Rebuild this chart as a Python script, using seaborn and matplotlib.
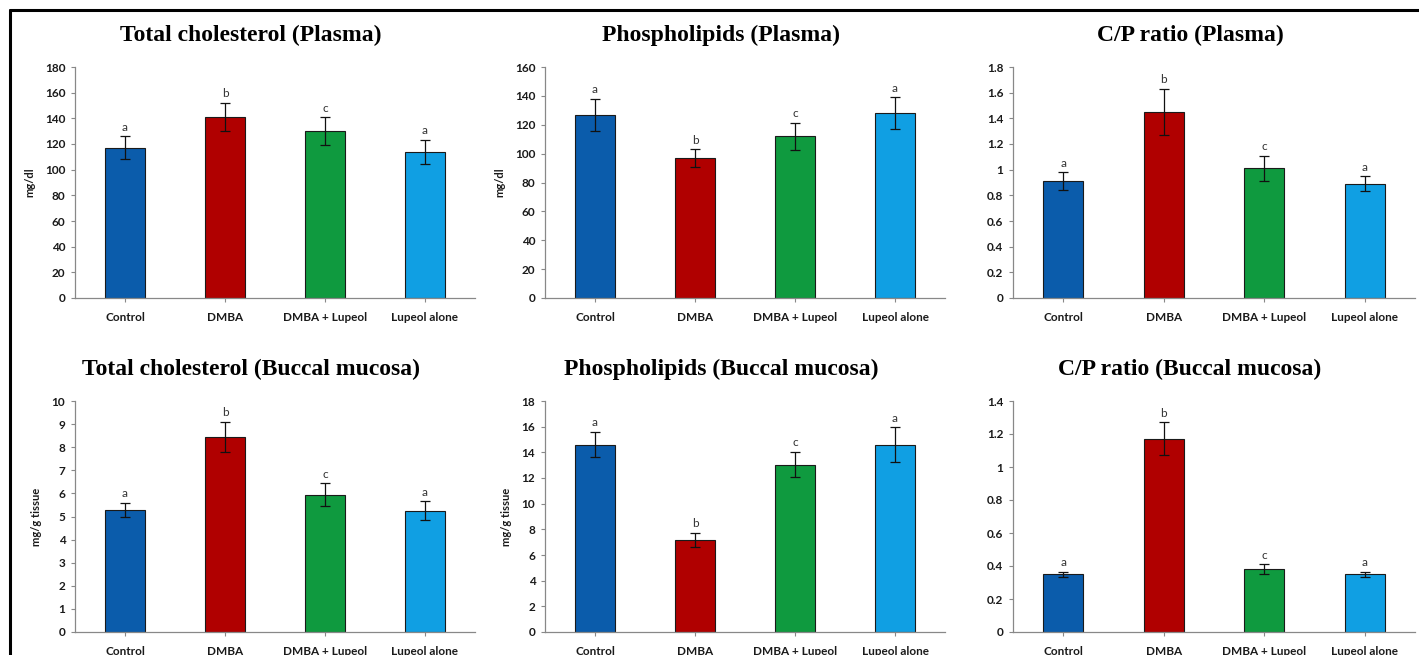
import matplotlib
matplotlib.use("Agg")
import matplotlib.pyplot as plt
import seaborn as sns
import pandas as pd
from matplotlib.lines import Line2D

# ── Data ──────────────────────────────────────────────────────────────────── #
groups = ["Control", "DMBA", "DMBA + Lupeol", "Lupeol alone"]
letters = ["a", "b", "c", "a"]
palette = ["#0b5cab", "#b00000", "#0f9a3f", "#109fe3"]

tc_plasma = [117, 141, 130, 114]
tc_plasma_sd = [9, 11, 11, 9.5]
pl_plasma = [127, 97, 112, 128]
pl_plasma_sd = [11, 6, 9.5, 11]
cp_plasma = [0.91, 1.45, 1.01, 0.89]
cp_plasma_sd = [0.07, 0.18, 0.10, 0.06]

tc_buccal = [5.3, 8.45, 5.95, 5.25]
tc_buccal_sd = [0.3, 0.65, 0.5, 0.42]
pl_buccal = [14.6, 7.2, 13.05, 14.6]
pl_buccal_sd = [1.0, 0.55, 1.0, 1.35]
cp_buccal = [0.35, 1.17, 0.38, 0.35]
cp_buccal_sd = [0.015, 0.10, 0.03, 0.015]

panels = [
    ("Total cholesterol (Plasma)", tc_plasma, tc_plasma_sd, "mg/dl", 180, 20, "{:.0f}"),
    ("Phospholipids (Plasma)", pl_plasma, pl_plasma_sd, "mg/dl", 160, 20, "{:.0f}"),
    ("C/P ratio (Plasma)", cp_plasma, cp_plasma_sd, "", 1.8, 0.2, "{:g}"),
    ("Total cholesterol (Buccal mucosa)", tc_buccal, tc_buccal_sd, "mg/g tissue", 10, 1, "{:.0f}"),
    ("Phospholipids (Buccal mucosa)", pl_buccal, pl_buccal_sd, "mg/g tissue", 18, 2, "{:.0f}"),
    ("C/P ratio (Buccal mucosa)", cp_buccal, cp_buccal_sd, "", 1.4, 0.2, "{:g}"),
]

# ── Layout ────────────────────────────────────────────────────────────────── #
W, H = 1419, 655
lefts = [75, 545, 1013]
widths = [400, 400, 402]
rows = [(67, 298), (401, 632)]

sns.set_style("white")
plt.rcParams["font.family"] = ["Lato", "DejaVu Sans"]
plt.rcParams["text.color"] = "black"

fig = plt.figure(figsize=(W / 100, H / 100), dpi=100)

for i, (title, vals, sds, ylab, ymax, step, fmt) in enumerate(panels):
    r, c = divmod(i, 3)
    top, bot = rows[r]
    ax = fig.add_axes([lefts[c] / W, (H - bot) / H, widths[c] / W, (bot - top) / H])

    df = pd.DataFrame({"group": groups, "value": vals})
    sns.barplot(data=df, x="group", y="value", hue="group", palette=palette,
                saturation=1, width=0.4, edgecolor="#1a1a1a", linewidth=0.8,
                legend=False, errorbar=None, ax=ax)
    ax.errorbar(range(len(groups)), vals, yerr=sds, fmt="none", ecolor="#111111",
                elinewidth=0.9, capsize=3.5, capthick=0.9)
    for x, (v, s, lt) in enumerate(zip(vals, sds, letters)):
        ax.text(x, v + s + ymax * 0.015, lt, ha="center", va="bottom",
                fontsize=8.5, color="#333333")

    ax.set_xlim(-0.5, 3.5)
    ax.set_ylim(0, ymax)
    ticks = [k * step for k in range(int(round(ymax / step)) + 1)]
    ax.set_yticks(ticks)
    ax.set_yticklabels([fmt.format(round(t, 2)) for t in ticks], fontsize=8.5,
                       fontweight="bold", color="#1a1a1a")
    ax.set_xticks(range(len(groups)))
    ax.set_xticklabels(groups, fontsize=8.5, fontweight="bold", color="#1a1a1a")
    ax.tick_params(axis="both", length=3, width=0.8, color="#888888",
                   direction="out", left=True, bottom=True, pad=4)
    ax.tick_params(axis="x", pad=7)
    ax.set_xlabel("")
    ax.set_ylabel(ylab, fontsize=8, fontweight="bold", labelpad=7, color="#1a1a1a")
    sns.despine(ax=ax)
    for sp in ("left", "bottom"):
        ax.spines[sp].set_color("#888888")
        ax.spines[sp].set_linewidth(0.9)
    ax.set_title(title, fontsize=17, fontweight="bold", family="Liberation Serif",
                 color="black", pad=19, x=0.44)

# Frame lines (top and left edges)
fig.add_artist(Line2D([10 / W, 1], [1 - 10 / H, 1 - 10 / H], color="black", lw=2.2,
                      transform=fig.transFigure))
fig.add_artist(Line2D([10 / W, 10 / W], [0, 1 - 10 / H], color="black", lw=2.2,
                      transform=fig.transFigure))

fig.savefig("out.png", dpi=100)
